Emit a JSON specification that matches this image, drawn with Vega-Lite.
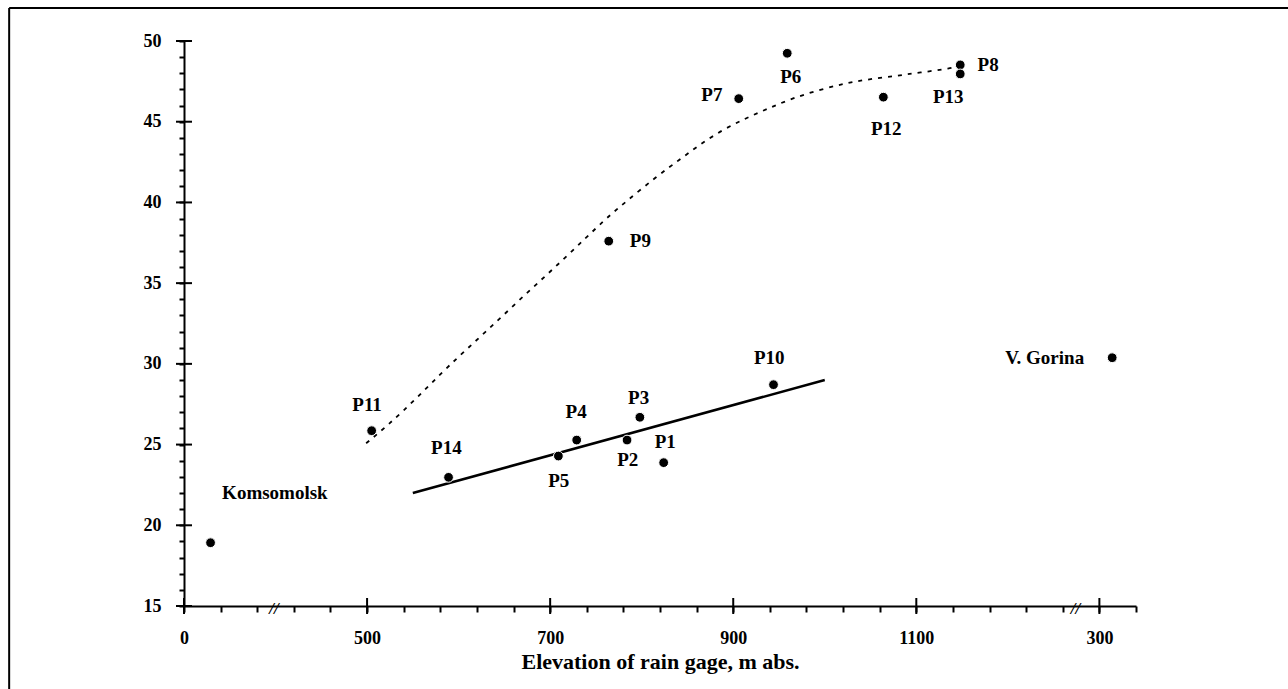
{
  "$schema": "https://vega.github.io/schema/vega-lite/v6.json",
  "width": 952,
  "height": 565,
  "autosize": {"type": "none"},
  "padding": {"left": 184, "top": 41, "right": 152, "bottom": 83},
  "background": "white",
  "config": {
    "view": {"stroke": null},
    "font": "Liberation Serif",
    "axis": {
      "grid": false,
      "domainColor": "black",
      "domainWidth": 2,
      "tickColor": "black",
      "tickWidth": 2,
      "labelColor": "black",
      "labelFont": "Liberation Serif",
      "labelFontWeight": "bold",
      "labelFontSize": 18,
      "labelOverlap": false,
      "labelFlush": false,
      "titleColor": "black",
      "titleFont": "Liberation Serif",
      "titleFontWeight": "bold"
    }
  },
  "encoding": {
    "x": {
      "field": "x",
      "type": "quantitative",
      "scale": {"domain": [300, 1340], "nice": false, "zero": false},
      "axis": {
        "values": [300, 340, 380, 420, 460, 500, 540, 580, 620, 660, 700, 740, 780, 820, 860, 900, 940, 980, 1020, 1060, 1100, 1140, 1180, 1220, 1260, 1300, 1340],
        "labelExpr": "datum.value == 300 ? '0' : datum.value == 1300 ? '300' : (datum.value == 500 || datum.value == 700 || datum.value == 900 || datum.value == 1100) ? '' + datum.value : ''",
        "tickSize": 6,
        "labelPadding": 17,
        "title": "Elevation of rain gage, m abs.",
        "titleFontSize": 22,
        "titleBaseline": "alphabetic",
        "titleY": 62,
        "titleX": 476
      }
    },
    "y": {
      "field": "y",
      "type": "quantitative",
      "scale": {"domain": [15, 50], "nice": false, "zero": false},
      "axis": {
        "values": [15, 16, 17, 18, 19, 20, 21, 22, 23, 24, 25, 26, 27, 28, 29, 30, 31, 32, 33, 34, 35, 36, 37, 38, 39, 40, 41, 42, 43, 44, 45, 46, 47, 48, 49, 50],
        "labelExpr": "datum.value % 5 == 0 ? '' + datum.value : ''",
        "tickSize": 5,
        "labelPadding": 18,
        "title": null
      }
    }
  },
  "layer": [
    {
      "data": {"values": [
        {"x": 109, "x2": 109, "y": 9, "y2": 52.05},
        {"x": 109, "x2": 1510, "y": 52.05, "y2": 52.05}
      ]},
      "mark": {"type": "rule", "color": "black", "strokeWidth": 2},
      "encoding": {"x2": {"field": "x2"}, "y2": {"field": "y2"}}
    },
    {
      "data": {"values": [
        {"x": 499, "y": 25.08},
        {"x": 523, "y": 26.21},
        {"x": 556, "y": 27.97},
        {"x": 588, "y": 29.83},
        {"x": 630, "y": 32.0},
        {"x": 674, "y": 34.37},
        {"x": 718, "y": 36.64},
        {"x": 761, "y": 39.02},
        {"x": 783, "y": 40.05},
        {"x": 816, "y": 41.6},
        {"x": 841, "y": 42.63},
        {"x": 863, "y": 43.56},
        {"x": 888, "y": 44.49},
        {"x": 914, "y": 45.22},
        {"x": 939, "y": 45.84},
        {"x": 965, "y": 46.46},
        {"x": 994, "y": 46.97},
        {"x": 1023, "y": 47.39},
        {"x": 1048, "y": 47.63},
        {"x": 1078, "y": 47.84},
        {"x": 1103, "y": 48.04},
        {"x": 1139, "y": 48.31},
        {"x": 1148, "y": 48.46}
      ]},
      "mark": {"type": "line", "color": "black", "strokeWidth": 1.8, "strokeDash": [4, 6], "interpolate": "basis"}
    },
    {
      "data": {"values": [
        {"x": 550, "y": 22.0},
        {"x": 1000, "y": 29.0}
      ]},
      "mark": {"type": "line", "color": "black", "strokeWidth": 2.5}
    },
    {
      "data": {"values": [
        {"x": 300, "y": 15}, {"x": 300, "y": 20}, {"x": 300, "y": 25}, {"x": 300, "y": 30},
        {"x": 300, "y": 35}, {"x": 300, "y": 40}, {"x": 300, "y": 45}, {"x": 300, "y": 50}
      ]},
      "mark": {"type": "tick", "orient": "horizontal", "size": 16, "thickness": 2, "color": "black", "opacity": 1}
    },
    {
      "data": {"values": [
        {"x": 300, "y": 15}, {"x": 500, "y": 15}, {"x": 700, "y": 15},
        {"x": 900, "y": 15}, {"x": 1100, "y": 15}, {"x": 1300, "y": 15}
      ]},
      "mark": {"type": "tick", "orient": "vertical", "size": 16, "thickness": 2, "color": "black", "opacity": 1}
    },
    {
      "data": {"values": [
        {"station": "Komsomolsk", "x": 329, "y": 18.92},
        {"station": "P11", "x": 505, "y": 25.86},
        {"station": "P14", "x": 589, "y": 22.97},
        {"station": "P5", "x": 709, "y": 24.29},
        {"station": "P4", "x": 729, "y": 25.28},
        {"station": "P2", "x": 784, "y": 25.28},
        {"station": "P3", "x": 798, "y": 26.69},
        {"station": "P1", "x": 824, "y": 23.88},
        {"station": "P9", "x": 764, "y": 37.6},
        {"station": "P10", "x": 944, "y": 28.71},
        {"station": "P6", "x": 959, "y": 49.24},
        {"station": "P7", "x": 906, "y": 46.43},
        {"station": "P12", "x": 1064, "y": 46.52},
        {"station": "P8", "x": 1148, "y": 48.52},
        {"station": "P13", "x": 1148, "y": 47.96},
        {"station": "V. Gorina", "x": 1314, "y": 30.38}
      ]},
      "mark": {"type": "circle", "size": 95, "color": "black", "opacity": 1, "stroke": "white", "strokeWidth": 1}
    },
    {
      "data": {"values": [
        {"label": "Komsomolsk", "x": 399.3, "y": 22.02},
        {"label": "P11", "x": 500, "y": 27.45},
        {"label": "P14", "x": 586.6, "y": 24.77},
        {"label": "P5", "x": 709.4, "y": 22.76},
        {"label": "P4", "x": 728.4, "y": 27.04},
        {"label": "P2", "x": 784.7, "y": 24.05},
        {"label": "P3", "x": 796.7, "y": 27.91},
        {"label": "P1", "x": 825.8, "y": 25.18},
        {"label": "P9", "x": 798.5, "y": 37.6},
        {"label": "P10", "x": 939.3, "y": 30.38},
        {"label": "P6", "x": 962.9, "y": 47.79},
        {"label": "P7", "x": 876.7, "y": 46.66},
        {"label": "P12", "x": 1067.2, "y": 44.54},
        {"label": "P8", "x": 1178.5, "y": 48.52},
        {"label": "P13", "x": 1134.9, "y": 46.52},
        {"label": "V. Gorina", "x": 1240.3, "y": 30.35}
      ]},
      "mark": {"type": "text", "font": "Liberation Serif", "fontWeight": "bold", "fontSize": 19, "align": "center", "baseline": "middle", "color": "black"},
      "encoding": {"text": {"field": "label"}}
    },
    {
      "data": {"values": [
        {"mark": "//", "x": 398.2, "y": 15},
        {"mark": "//", "x": 1274, "y": 15}
      ]},
      "mark": {"type": "text", "font": "Liberation Serif", "fontSize": 17, "fontStyle": "italic", "fontWeight": "bold", "align": "center", "baseline": "middle", "dy": 3, "color": "black"},
      "encoding": {"text": {"field": "mark"}}
    }
  ]
}
